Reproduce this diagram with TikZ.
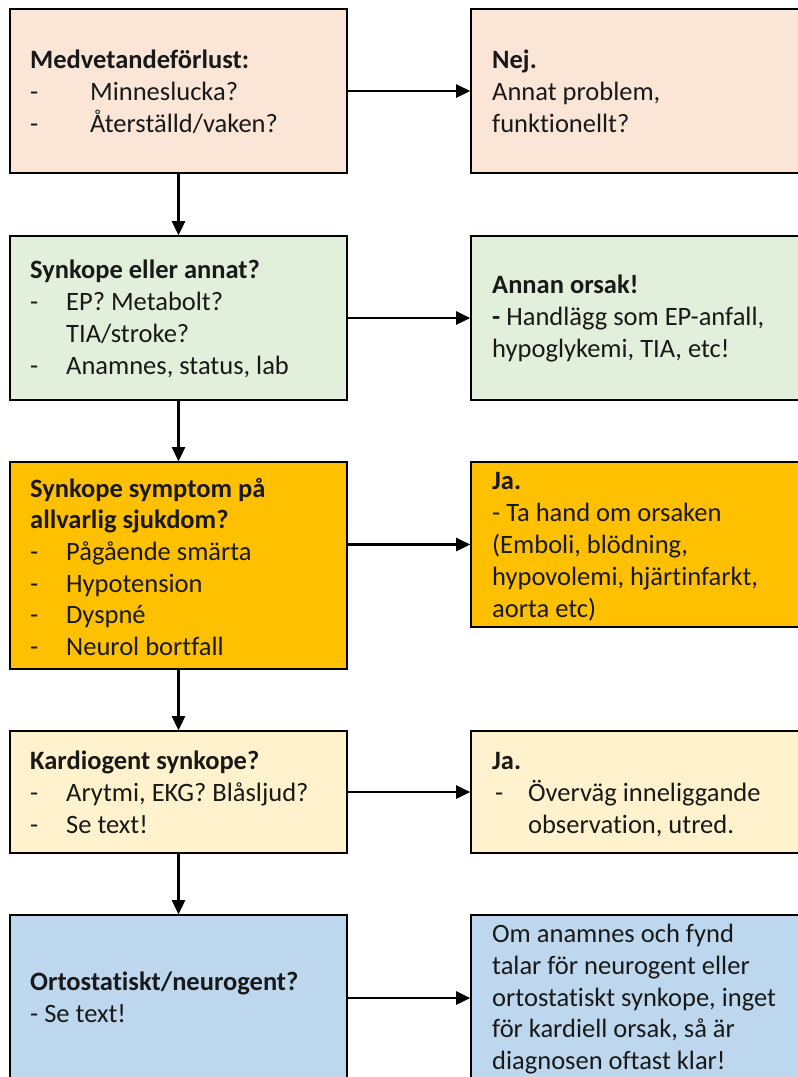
\documentclass[tikz,border=0pt]{standalone}
\usepackage{fontspec}
\setmainfont{Carlito}[Ligatures={NoCommon}]
\usetikzlibrary{arrows.meta}
\definecolor{cpeach}{HTML}{FBE5D6}
\definecolor{cgreen}{HTML}{E2EFDA}
\definecolor{cgold}{HTML}{FFC000}
\definecolor{ccream}{HTML}{FFF2CC}
\definecolor{cblue}{HTML}{BDD7EE}
\newcommand\tline[4]{\node[txt] (#1) at (#2,#3) {#4};}
\newcommand\bline[5]{\node[txt] (#1) at (#2,#3) {\makebox[#4][l]{-}#5};}
\tikzset{
  box/.style={draw=black, line width=1.6pt, rectangle, inner sep=0pt},
  txt/.style={anchor=base west, inner sep=0pt, font=\fontsize{26.5}{32}\selectfont, text=black!90},
  arr/.style={line width=2.6pt, -{Triangle[length=14pt,width=13pt]}},
}
\begin{document}
\begin{tikzpicture}[x=1pt,y=-1pt]
\useasboundingbox (0,0) rectangle (798,1077);
% left boxes
\node[box, fill=cpeach, minimum width=337pt, minimum height=164pt] (b1) at (178.5,91) {};
\node[box, fill=cgreen, minimum width=337pt, minimum height=164pt] (b2) at (178.5,318) {};
\node[box, fill=cgold,  minimum width=337pt, minimum height=207pt] (b3) at (178.5,565.5) {};
\node[box, fill=ccream, minimum width=337pt, minimum height=122pt] (b4) at (178.5,792) {};
\node[box, fill=cblue,  minimum width=337pt, minimum height=166pt] (b5) at (178.5,998) {};
% right boxes
\node[box, fill=cpeach, minimum width=360pt, minimum height=164pt] (r1) at (651,91) {};
\node[box, fill=cgreen, minimum width=360pt, minimum height=164pt] (r2) at (651,318) {};
\node[box, fill=cgold,  minimum width=360pt, minimum height=165pt] (r3) at (651,544.5) {};
\node[box, fill=ccream, minimum width=360pt, minimum height=122pt] (r4) at (651,792) {};
\node[box, fill=cblue,  minimum width=360pt, minimum height=166pt] (r5) at (651,998) {};
% vertical arrows
\draw[arr] (b1.south) -- (b2.north);
\draw[arr] (b2.south) -- (b3.north);
\draw[arr] (b3.south) -- (b4.north);
\draw[arr] (b4.south) -- (b5.north);
% horizontal arrows
\draw[arr] (b1.east) -- (r1.west);
\draw[arr] (b2.east) -- (r2.west);
\draw[arr] (r3.west -| b3.east) -- (r3.west);
\draw[arr] (b4.east) -- (r4.west);
\draw[arr] (b5.east) -- (r5.west);
% texts box 1
\tline{t1a}{30}{68}{\textbf{Medvetandeförlust:}}
\bline{t1b}{30}{100}{60pt}{Minneslucka?}
\bline{t1c}{30}{132}{60pt}{Återställd/vaken?}
% box 2
\tline{t2a}{30}{278}{\textbf{Synkope eller annat?}}
\bline{t2b}{30}{310}{36pt}{EP? Metabolt?}
\tline{t2c}{66}{342}{TIA/stroke?}
\bline{t2d}{30}{374}{36pt}{Anamnes, status, lab}
% box 3
\tline{t3a}{30}{497}{\textbf{Synkope symptom på}}
\tline{t3b}{30}{528}{\textbf{allvarlig sjukdom?}}
\bline{t3c}{30}{560}{36pt}{Pågående smärta}
\bline{t3d}{30}{592}{36pt}{Hypotension}
\bline{t3e}{30}{623}{36pt}{Dyspné}
\bline{t3f}{30}{655}{36pt}{Neurol bortfall}
% box 4
\tline{t4a}{30}{769}{\textbf{Kardiogent synkope?}}
\bline{t4b}{30}{801}{36pt}{Arytmi, EKG? Blåsljud?}
\bline{t4c}{30}{833}{36pt}{Se text!}
% box 5
\tline{t5a}{30}{990}{\textbf{Ortostatiskt/neurogent?}}
\tline{t5b}{30}{1022}{- Se text!}
% right 1
\tline{s1a}{492}{68}{\textbf{Nej.}}
\tline{s1b}{492}{100}{Annat problem,}
\tline{s1c}{492}{132}{funktionellt?}
% right 2
\tline{s2a}{492}{293}{\textbf{Annan orsak!}}
\tline{s2b}{492}{325}{\textbf{-} Handlägg som EP-anfall,}
\tline{s2c}{492}{357}{hypoglykemi, TIA, etc!}
% right 3
\tline{s3a}{492}{489}{\textbf{Ja.}}
\tline{s3b}{492}{521}{- Ta hand om orsaken}
\tline{s3c}{492}{553}{(Emboli, blödning,}
\tline{s3d}{492}{585}{hypovolemi, hjärtinfarkt,}
\tline{s3e}{492}{617}{aorta etc)}
% right 4
\tline{s4a}{492}{769}{\textbf{Ja.}}
\bline{s4b}{495}{801}{33pt}{Överväg inneliggande}
\tline{s4c}{528}{833}{observation, utred.}
% right 5
\tline{s5a}{492}{942}{Om anamnes och fynd}
\tline{s5b}{492}{974}{talar för neurogent eller}
\tline{s5c}{492}{1006}{ortostatiskt synkope, inget}
\tline{s5d}{492}{1037}{för kardiell orsak, så är}
\tline{s5e}{492}{1069}{diagnosen oftast klar!}
\end{tikzpicture}
\end{document}
